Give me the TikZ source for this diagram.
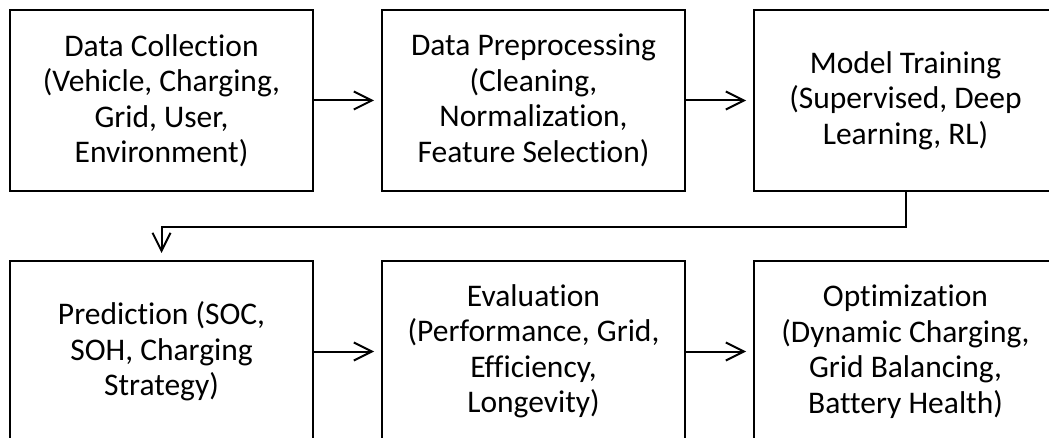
\documentclass[tikz,border=0pt]{standalone}
\usepackage{fontspec}
\setmainfont[Ligatures=NoCommon]{Carlito}
\usetikzlibrary{arrows.meta}
\begin{document}
\begin{tikzpicture}[x=1pt,y=-1pt,
  stagebox/.style={draw=black,line width=2pt,minimum width=303pt,minimum height=181pt,
    inner sep=0pt,align=center,font=\fontsize{31.5}{35.5}\selectfont},
  flow/.style={draw=black,line width=2pt,shorten >=7pt,
    -{Straight Barb[length=18pt,width=18pt,line width=2pt]}}]
\useasboundingbox (0,0) rectangle (1049,438);
\begin{scope}
\clip (0,0) rectangle (1049,438);
% top row
\node[stagebox] (collect) at (161.5,100.5) {Data Collection\\(Vehicle, Charging,\\Grid, User,\\Environment)};
\node[stagebox] (prep) at (533.5,100.5) {Data Preprocessing\\(Cleaning,\\Normalization,\\Feature Selection)};
\node[stagebox] (train) at (905.5,100.5) {Model Training\\(Supervised, Deep\\Learning, RL)};
% bottom row
\node[stagebox] (predict) at (161.5,351.5) {Prediction (SOC,\\SOH, Charging\\Strategy)};
\node[stagebox] (eval) at (533.5,351.5) {Evaluation\\(Performance, Grid,\\Efficiency,\\Longevity)};
\node[stagebox] (optim) at (905.5,351.5) {Optimization\\(Dynamic Charging,\\Grid Balancing,\\Battery Health)};
% connectors
\draw[flow] (collect) -- (prep);
\draw[flow] (prep) -- (train);
\coordinate (bend) at (0,227);
\draw[flow] (train.south) -- (train.south |- bend) -- (predict.north |- bend) -- (predict.north);
\draw[flow] (predict) -- (eval);
\draw[flow] (eval) -- (optim);
\end{scope}
\end{tikzpicture}
\end{document}
